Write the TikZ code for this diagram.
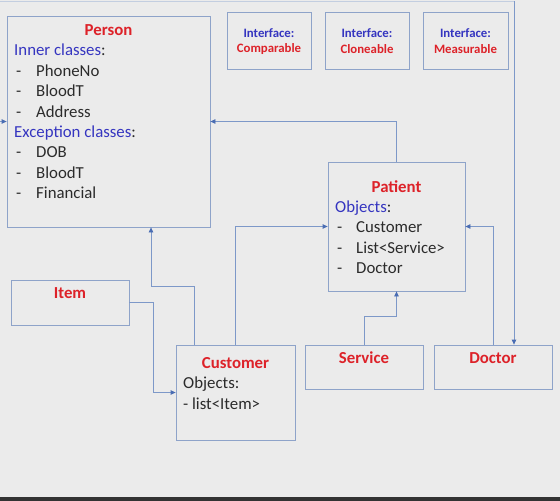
\documentclass[tikz,border=0pt]{standalone}
\usepackage{fontspec}
\setmainfont{Carlito}
\usetikzlibrary{arrows.meta}
\definecolor{bg}{HTML}{EBEBEB}
\definecolor{boxline}{HTML}{8EA3C9}
\definecolor{conncol}{HTML}{7D98C8}
\definecolor{tipcol}{HTML}{4A6DB3}
\definecolor{titlered}{HTML}{DD2229}
\definecolor{headblue}{HTML}{3535C0}
\definecolor{bodytext}{HTML}{2B2B2B}
\definecolor{faint}{HTML}{C3CEE0}
\tikzset{
  box/.style={draw=boxline, line width=0.8pt, inner sep=0pt},
  conn/.style={draw=conncol, line width=0.8pt, -{Triangle[length=5pt,width=4.5pt,color=tipcol]}},
  plain/.style={draw=faint, line width=0.8pt},
  title/.style={font=\fontsize{16.8}{18}\selectfont\bfseries, text=titlered, inner sep=0pt},
  head/.style={font=\fontsize{16.8}{18}\selectfont, text=headblue, anchor=west, inner sep=0pt, text height=11.5pt, text depth=3.5pt},
  body/.style={font=\fontsize{16.8}{18}\selectfont, text=bodytext, anchor=west, inner sep=0pt, text height=11.5pt, text depth=3.5pt},
  iblue/.style={font=\fontsize{12.8}{14}\selectfont\bfseries, text=headblue, inner sep=0pt},
  ired/.style={font=\fontsize{12.8}{14}\selectfont\bfseries, text=titlered, inner sep=0pt},
}
\begin{document}
\begin{tikzpicture}[x=1pt, y=-1pt]
\fill[bg] (0,0) rectangle (560,501);
\useasboundingbox (0,0) rectangle (560,501);
\fill[black!80] (0,497) rectangle (560,501);

% boxes
\node[box, minimum width=203pt, minimum height=211pt] (person) at (108.5,121.5) {};
\node[box, minimum width=84pt, minimum height=57pt] (comp) at (269,40.5) {};
\node[box, minimum width=84pt, minimum height=57pt] (clone) at (367,40.5) {};
\node[box, minimum width=85pt, minimum height=57pt] (meas) at (465.5,40.5) {};
\node[box, minimum width=137pt, minimum height=129pt] (patient) at (396.5,226.5) {};
\node[box, minimum width=118pt, minimum height=45pt] (item) at (70,302.5) {};
\node[box, minimum width=119pt, minimum height=95pt] (customer) at (235.5,392.5) {};
\node[box, minimum width=118pt, minimum height=44pt] (service) at (364,367) {};
\node[box, minimum width=118pt, minimum height=44pt] (doctor) at (493,367) {};

% Person text
\node[title] (pt) at (108.5,30) {Person};
\node[head] (p1) at (14,51.5) {Inner classes\textcolor{bodytext}{:}};
\node[body] (p2) at (16,72) {-};
\node[body] (p2t) at (36,72) {PhoneNo};
\node[body] (p3) at (16,92.5) {-};
\node[body] (p3t) at (36,92.5) {BloodT};
\node[body] (p4) at (16,113) {-};
\node[body] (p4t) at (36,113) {Address};
\node[head] (p5) at (14,133) {Exception classes\textcolor{bodytext}{:}};
\node[body] (p6) at (16,153.5) {-};
\node[body] (p6t) at (36,153.5) {DOB};
\node[body] (p7) at (16,174) {-};
\node[body] (p7t) at (36,174) {BloodT};
\node[body] (p8) at (16,194.5) {-};
\node[body] (p8t) at (36,194.5) {Financial};

% Interfaces
\node[iblue] (ci) at (269,33) {Interface:};
\node[ired] (cn) at (269,49) {Comparable};
\node[iblue] (li) at (367,33) {Interface:};
\node[ired] (ln) at (367,49) {Cloneable};
\node[iblue] (mi) at (465.5,33) {Interface:};
\node[ired] (mn) at (465.5,49) {Measurable};

% Patient text
\node[title] (pat) at (396.5,186.5) {Patient};
\node[head] (q1) at (335,208) {Objects\textcolor{bodytext}{:}};
\node[body] (q2) at (337,228.5) {-};
\node[body] (q2t) at (356,228.5) {Customer};
\node[body] (q3) at (337,249) {-};
\node[body] (q3t) at (356,249) {List<Service>};
\node[body] (q4) at (337,269.5) {-};
\node[body] (q4t) at (356,269.5) {Doctor};

% Item, Customer, Service, Doctor text
\node[title] (it) at (70,293.5) {Item};
\node[title] (cut) at (235.5,363.5) {Customer};
\node[body] (c1) at (183,384.5) {Objects:};
\node[body] (c2) at (183,405) {- list<Item>};
\node[title] (st) at (364,358) {Service};
\node[title] (dt) at (493,358) {Doctor};

% helper coordinates
\coordinate (topL) at (0,1);
\coordinate (topR) at (514,1);
\coordinate (leftIn) at (0,121.5);
\coordinate (kItem) at (153,0);
\coordinate (kCust) at (194,286);
\coordinate (kPers) at (151,0);
\coordinate (kServ) at (0,316);

% connectors
\draw[plain] (topL) -- (topR);
\draw[conn] (topR) -- (topR |- doctor.north);
\draw[conn] (leftIn) -- (person.west);
\draw[conn] (patient.north) |- (person.east);
\draw[conn] (doctor.north) |- (patient.east);
\draw[conn] (customer.north) |- (patient.west);
\draw[conn] (service.north) -- (service.north |- kServ) -| (patient.south);
\draw[conn] (item.east) -- (item.east -| kItem) |- (customer.west);
\draw[conn] (customer.north -| kCust) -- (kCust) -| (person.south -| kPers);
\end{tikzpicture}
\end{document}
